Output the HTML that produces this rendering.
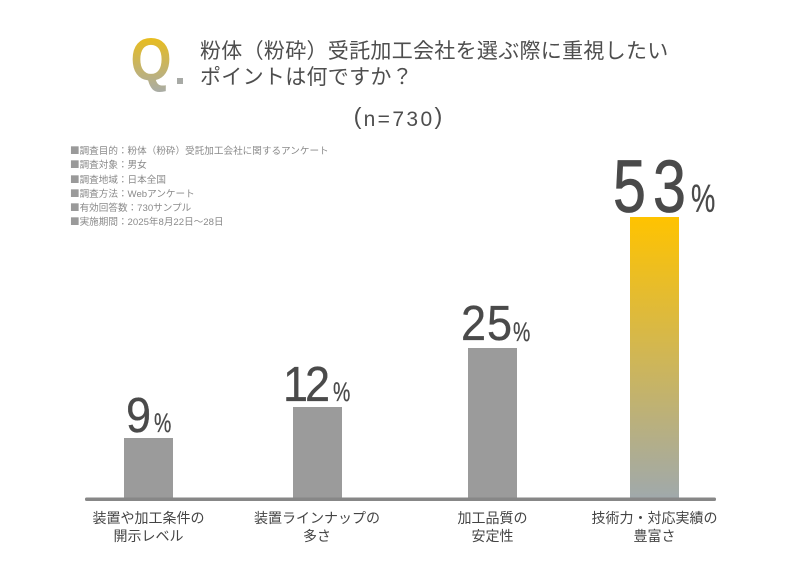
<!DOCTYPE html>
<html>
<head>
<meta charset="utf-8">
<style>
  html,body{margin:0;padding:0;background:#fff;}
  #wrap{position:relative;width:800px;height:581px;overflow:hidden;background:#fff;}
  .abs{position:absolute;white-space:nowrap;}
  .title{left:200px;top:39px;font-family:"Liberation Sans","Noto Sans CJK JP",sans-serif;font-size:21px;line-height:25.5px;letter-spacing:0.3px;color:#4e4e4e;}
  .notes{left:70px;top:144px;font-family:"Liberation Sans","Noto Sans CJK JP",sans-serif;font-size:9.6px;line-height:13.3px;color:#8a8a8a;}
  .notes span{color:#9a9a9a;font-family:"Noto Sans CJK JP",sans-serif;}
  .dg{position:absolute;font-family:"Liberation Sans",sans-serif;line-height:1;color:#4a4a4a;transform-origin:0 0;white-space:nowrap;-webkit-text-stroke:0.3px #4a4a4a;}
  .pc{position:absolute;font-family:"Liberation Sans",sans-serif;line-height:1;color:#4a4a4a;transform-origin:0 0;white-space:nowrap;-webkit-text-stroke:0.3px #4a4a4a;}
  .lbl{position:absolute;top:509px;width:200px;text-align:center;font-family:"Liberation Sans","Noto Sans CJK JP",sans-serif;font-size:14px;line-height:18px;color:#444;}
  .n{font-family:"Liberation Sans",sans-serif;color:#4e4e4e;line-height:1;position:absolute;white-space:nowrap;}
</style>
</head>
<body>
<div id="wrap">
  <svg class="abs" style="left:0;top:0" width="800" height="581" viewBox="0 0 800 581">
    <defs>
      <linearGradient id="gq" x1="0" y1="0" x2="0" y2="1">
        <stop offset="0" stop-color="#f6c000"/>
        <stop offset="1" stop-color="#a8aca8"/>
      </linearGradient>
      <linearGradient id="gb" x1="0" y1="0" x2="0" y2="1">
        <stop offset="0" stop-color="#ffc300"/>
        <stop offset="1" stop-color="#a0a9ab"/>
      </linearGradient>
    </defs>
    <text transform="translate(130.5,80) scale(0.88,1)" x="0" y="0" font-family="Liberation Sans, sans-serif" font-weight="bold" font-size="60" fill="url(#gq)">Q</text>
    <rect x="177" y="78" width="6" height="6" fill="#a8aaa6"/>
    <rect x="124" y="438" width="49" height="60" fill="#9b9b9b"/>
    <rect x="293" y="407" width="49" height="91" fill="#9b9b9b"/>
    <rect x="468" y="348" width="49" height="150" fill="#9b9b9b"/>
    <rect x="630" y="217" width="49" height="281" fill="url(#gb)"/>
    <rect x="85" y="497.5" width="631" height="3.5" rx="1.5" fill="#878787"/>
  </svg>

  <div class="abs title">粉体（粉砕）受託加工会社を選ぶ際に重視したい<br>ポイントは何ですか？</div>

  <span class="n" style="left:353.6px;top:105.2px;font-size:23.5px;">(</span>
  <span class="n" style="left:363.6px;top:108.9px;font-size:21px;letter-spacing:2.4px;">n=730</span>
  <span class="n" style="left:434.5px;top:105.2px;font-size:23.5px;">)</span>

  <div class="abs notes"><span>■</span>調査目的：粉体（粉砕）受託加工会社に関するアンケート<br><span>■</span>調査対象：男女<br><span>■</span>調査地域：日本全国<br><span>■</span>調査方法：Webアンケート<br><span>■</span>有効回答数：730サンプル<br><span>■</span>実施期間：2025年8月22日～28日</div>

  <!-- 9% -->
  <span class="dg" style="left:126.1px;top:391.5px;font-size:49px;transform:scaleX(0.92);">9</span>
  <span class="pc" style="left:154.2px;top:410.1px;font-size:27px;transform:scaleX(0.72);">%</span>
  <!-- 12% -->
  <span class="dg" style="left:283px;top:360.5px;font-size:49px;transform:scaleX(0.92);">1</span>
  <span class="dg" style="left:304.7px;top:360.5px;font-size:49px;transform:scaleX(0.92);">2</span>
  <span class="pc" style="left:332.6px;top:379.1px;font-size:27px;transform:scaleX(0.72);">%</span>
  <!-- 25% -->
  <span class="dg" style="left:461.4px;top:300.2px;font-size:49px;transform:scaleX(0.92);">2</span>
  <span class="dg" style="left:486.8px;top:300.2px;font-size:49px;transform:scaleX(0.92);">5</span>
  <span class="pc" style="left:512.6px;top:318.8px;font-size:27px;transform:scaleX(0.72);">%</span>
  <!-- 53% -->
  <span class="dg" style="left:612.5px;top:150.4px;font-size:74px;transform:scaleX(0.8);-webkit-text-stroke:0.8px #4a4a4a;">5</span>
  <span class="dg" style="left:652.5px;top:150.4px;font-size:74px;transform:scaleX(0.8);-webkit-text-stroke:0.8px #4a4a4a;">3</span>
  <span class="pc" style="left:690.9px;top:180px;font-size:39px;transform:scaleX(0.7);">%</span>

  <div class="lbl" style="left:48.5px;">装置や加工条件の<br>開示レベル</div>
  <div class="lbl" style="left:217px;">装置ラインナップの<br>多さ</div>
  <div class="lbl" style="left:392.5px;">加工品質の<br>安定性</div>
  <div class="lbl" style="left:554.5px;">技術力・対応実績の<br>豊富さ</div>
</div>
</body>
</html>
